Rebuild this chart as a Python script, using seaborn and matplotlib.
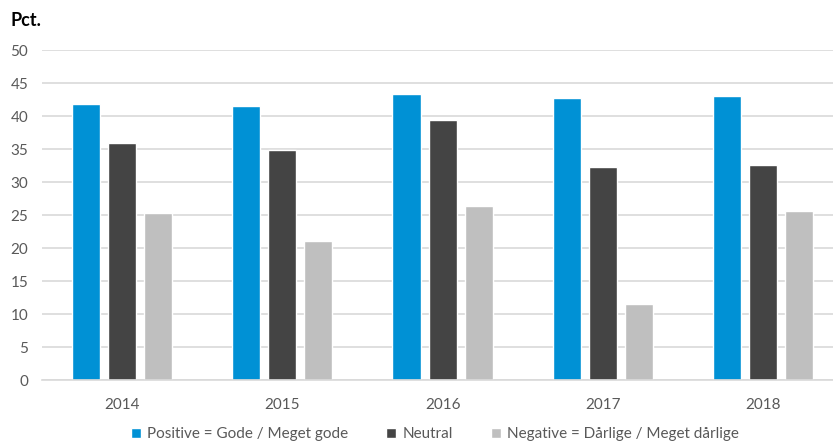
import matplotlib
matplotlib.use("Agg")
import matplotlib.pyplot as plt
import seaborn as sns
import pandas as pd

years = ["2014", "2015", "2016", "2017", "2018"]
series = ["Positive = Gode / Meget gode", "Neutral", "Negative = Dårlige / Meget dårlige"]
positive = [41.8, 41.5, 43.3, 42.8, 43.1]
neutral = [35.9, 34.8, 39.4, 32.2, 32.5]
negative = [25.3, 21.0, 26.4, 11.5, 25.6]
colors = ["#0091D5", "#444444", "#BFBFBF"]
yticks = [0, 5, 10, 15, 20, 25, 30, 35, 40, 45, 50]

rows = []
for name, vals in zip(series, [positive, neutral, negative]):
    for y, v in zip(years, vals):
        rows.append({"year": y, "series": name, "value": v})
df = pd.DataFrame(rows)

sns.set_theme(style="white")
plt.rcParams["font.family"] = ["Lato", "DejaVu Sans"]

fig = plt.figure(figsize=(8.33, 4.44), dpi=100)
ax = fig.add_axes([42 / 833, 1 - 380 / 444, 1 - 42 / 833, (380 - 50) / 444])

sns.barplot(data=df, x="year", y="value", hue="series", order=years,
            hue_order=series, palette=colors, width=0.675, gap=0.222,
            saturation=1, ax=ax, legend=True)

ax.set_ylim(0, 50)
ax.set_xlim(-0.5, (833 - 122) / 160.25)
ax.set_yticks(yticks)
ax.yaxis.grid(True, color="#D9D9D9", linewidth=1.2)
ax.set_axisbelow(True)
for s in ["top", "right", "left"]:
    ax.spines[s].set_visible(False)
ax.spines["bottom"].set_color("#D9D9D9")
ax.spines["bottom"].set_linewidth(1.2)
ax.tick_params(axis="both", length=0, labelsize=11, colors="#595959")
ax.tick_params(axis="x", pad=13)
ax.tick_params(axis="y", pad=10)
ax.set_xlabel("")
ax.set_ylabel("")

handles, labels = ax.get_legend_handles_labels()
ax.get_legend().remove()
fig.legend(handles, labels, loc="center", bbox_to_anchor=(0.522, 0.022),
           ncol=3, frameon=False, fontsize=11, handlelength=0.65,
           handleheight=0.65, handletextpad=0.4, columnspacing=2.5,
           labelcolor="#595959")

fig.text(10 / 833, 1 - 20 / 444, "Pct.", fontsize=13, fontweight="bold",
         color="#000000", va="center", ha="left")

fig.savefig("out.png", dpi=100)
